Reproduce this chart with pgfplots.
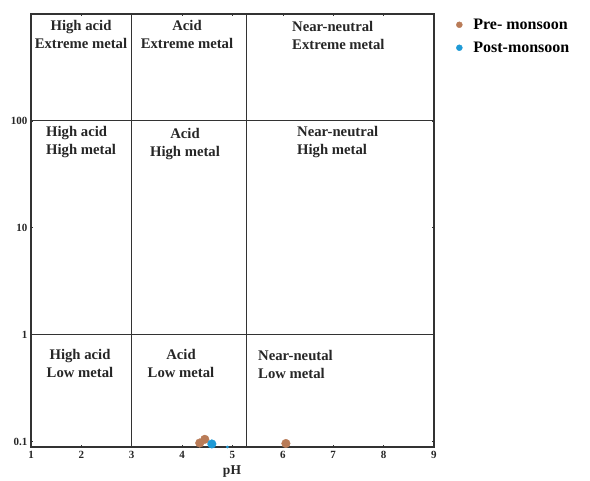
\documentclass[border=0pt]{standalone}
\usepackage{pgfplots}
\pgfplotsset{compat=1.18}
\usepackage{fontspec}
\setmainfont{Liberation Serif}
\definecolor{pre}{HTML}{B97B57}
\definecolor{post}{HTML}{1E9AD6}
\definecolor{frame}{HTML}{333333}
\begin{document}
\begin{tikzpicture}[x=1pt,y=1pt]
\path[use as bounding box] (0,0) rectangle (590,481);
\begin{axis}[
  at={(31pt,34pt)}, anchor=south west,
  scale only axis, width=403pt, height=433pt,
  ymode=log, xmin=1, xmax=9, ymin=0.089, ymax=1000,
  xtick={1,2,3,4,5,6,7,8,9}, xticklabels={1,2,3,4,5,6,7,8,9},
  ytick={0.1,1,10,100}, yticklabels={0.1,1,10,100},
  minor tick num=0, log basis y=10,
  yminorticks=false,
  tick align=inside, major tick length=2pt,
  tick style={frame, line width=0.6pt},
  axis line style={frame, line width=1.2pt},
  ticklabel style={font=\bfseries\fontsize{11}{13}\selectfont, text=black!85},
  xticklabel style={yshift=-1pt},
  clip=false,
  legend style={at={(1.055,0.994)}, anchor=north west, draw=none, fill=none,
    font=\bfseries\fontsize{16}{18}\selectfont, row sep=7pt, inner sep=0pt,
    /tikz/every odd column/.append style={column sep=9pt}},
  legend cell align=left,
  legend image code/.code={\draw[#1, mark size=3pt] plot coordinates {(3pt,0pt)};},
]
\draw[frame, line width=1.2pt] (3,0.089) -- (3,1000);
\draw[frame, line width=1.2pt] (5.28,0.089) -- (5.28,1000);
\draw[frame, line width=1.2pt] (1,1) -- (9,1);
\draw[frame, line width=1.2pt] (1,100) -- (9,100);
\addplot[only marks, mark=*, mark size=4.3pt, color=pre, mark options={draw=pre, fill=pre}]
  coordinates {(4.35,0.097) (4.45,0.105) (6.06,0.096)};
\addlegendentry{Pre- monsoon}
\addplot[only marks, mark=*, mark size=4.3pt, color=post, mark options={draw=post, fill=post}]
  coordinates {(4.59,0.095)};
\addlegendentry{Post-monsoon}
\addplot[only marks, mark=*, mark size=1.2pt, color=post, forget plot]
  coordinates {(4.9,0.089)};
\end{axis}
\def\rf{\bfseries\fontsize{14.7}{18}\selectfont}
% row 1
\node[font=\rf, align=center, text=black!85] at (81,481-34.5) {High acid\\Extreme metal};
\node[font=\rf, align=center, text=black!85] at (187,481-34.5) {Acid\\Extreme metal};
\node[font=\rf, align=left, anchor=west, text=black!85, inner sep=0pt] at (292,481-35) {Near-neutral\\Extreme metal};
% row 2
\node[font=\rf, align=left, anchor=west, text=black!85, inner sep=0pt] at (46,481-142.5) {High acid\\High metal};
\node[font=\rf, align=center, text=black!85] at (185,481-144.5) {Acid\\High metal};
\node[font=\rf, align=left, anchor=west, text=black!85, inner sep=0pt] at (297,481-141.7) {Near-neutral\\High metal};
% row 3
\node[font=\rf, align=center, text=black!85] at (80,481-363) {High acid\\Low metal};
\node[font=\rf, align=center, text=black!85] at (181,481-363.5) {Acid\\Low metal};
\node[font=\rf, align=left, anchor=west, text=black!85, inner sep=0pt] at (258,481-364.5) {Near-neutal\\Low metal};
% x label
\node[font=\bfseries\fontsize{13.5}{16}\selectfont, text=black!85] at (232,481-472) {pH};
\end{tikzpicture}
\end{document}
